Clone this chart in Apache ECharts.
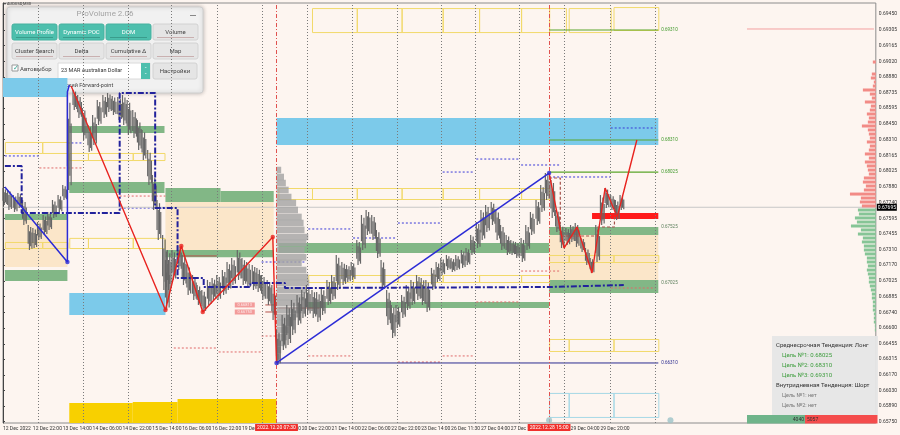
<!DOCTYPE html>
<html>
<head>
<meta charset="utf-8">
<title>AUDUSD,M30 ProVolume</title>
<script src="https://cdn.jsdelivr.net/npm/echarts@6/dist/echarts.min.js"></script>
<style>
html,body{margin:0;padding:0;background:#fdf5f0;}
#chart{width:900px;height:435px;}
</style>
</head>
<body>
<div id="chart"></div>
<script>
// price scale labels (right axis) and time labels (bar index -> text)
const yTickLabels = ['0.65750','0.65890','0.66030','0.66170','0.66315','0.66455','0.66600','0.66740','0.66885',
  '0.67025','0.67170','0.67310','0.67455','0.67595','0.67740','0.67880','0.68025','0.68165','0.68310',
  '0.68450','0.68595','0.68735','0.68880','0.69020','0.69165','0.69305','0.69450'];
const xTickBars = [0,32,64,96,128,160,192,224,256,288,320,352,384,416,448,480,512,544,576,608,640];
const xTickLabels = ['12 Dec 2022','12 Dec 22:00','13 Dec 14:00','14 Dec 06:00','14 Dec 22:00','15 Dec 14:00',
  '16 Dec 06:00','16 Dec 22:00','19 Dec 14:00','20 Dec 06:00','20 Dec 22:00','21 Dec 14:00','22 Dec 06:00',
  '22 Dec 22:00','23 Dec 14:00','26 Dec 11:30','27 Dec 04:00','27 Dec 20:00','28 Dec 12:00','29 Dec 04:00','29 Dec 20:00'];
const daySeparators = [38,86,134,180,230,278,326,374,422,470,506,553,601,651,699];
const sessionBars = [293,585];
const sessionLabels = ['2022.12.20 07:30','2022.12.28 15:00'];
const lastPrice = 0.67695;

// M30 price, sampled: bar index, high, low
const priceBars = [0,5,11,16,21,27,32,37,43,48,
  53,59,64,69,75,80,85,91,96,101,
  107,112,117,123,128,133,139,144,149,155,
  160,165,171,174,176,181,187,192,197,203,
  208,213,219,224,229,235,240,245,251,256,
  261,267,272,277,283,288,293,299,304,309,
  315,320,325,331,336,341,347,352,357,363,
  368,373,379,384,389,395,400,405,411,416,
  421,427,432,437,443,448,453,459,464,469,
  475,480,485,491,496,501,507,512,517,523,
  528,533,539,544,549,555,560,565,571,576,
  581,587,592,597,603,608,613,619,624,629,
  635,640,645,651,656,661];
const priceHigh = [0.67870,0.67852,0.67806,0.67825,0.67761,0.67534,0.67507,0.67561,0.67625,0.67652,
  0.67761,0.67806,0.67897,0.68714,0.68760,0.68714,0.68596,0.68442,0.68533,0.68669,
  0.68714,0.68733,0.68705,0.68696,0.68714,0.68669,0.68578,0.68487,0.68397,0.68215,
  0.67988,0.67761,0.67443,0.67216,0.67307,0.67307,0.67352,0.67262,0.67171,0.67080,
  0.66989,0.66944,0.67035,0.67053,0.67080,0.67125,0.67198,0.67234,0.67307,0.67234,
  0.67198,0.67171,0.67144,0.67080,0.67035,0.66989,0.66581,0.66717,0.66808,0.66853,
  0.66898,0.66944,0.66989,0.66944,0.66926,0.66962,0.67035,0.67080,0.67262,0.67198,
  0.67171,0.67198,0.67398,0.67625,0.67670,0.67625,0.67489,0.67216,0.66944,0.66808,
  0.66808,0.66898,0.66989,0.67035,0.67080,0.67053,0.67035,0.67144,0.67198,0.67234,
  0.67262,0.67234,0.67262,0.67307,0.67325,0.67443,0.67561,0.67670,0.67716,0.67743,
  0.67670,0.67534,0.67443,0.67398,0.67380,0.67416,0.67534,0.67652,0.67761,0.67897,
  0.68006,0.67943,0.67670,0.67534,0.67507,0.67534,0.67552,0.67416,0.67325,0.67234,
  0.67534,0.67806,0.67870,0.67806,0.67761,0.67806];
const priceLow = [0.67716,0.67670,0.67652,0.67688,0.67534,0.67307,0.67325,0.67398,0.67443,0.67489,
  0.67598,0.67652,0.67761,0.67852,0.68578,0.68506,0.68306,0.68197,0.68261,0.68442,
  0.68506,0.68560,0.68533,0.68487,0.68442,0.68351,0.68324,0.68215,0.68124,0.67897,
  0.67670,0.67398,0.66944,0.66762,0.66944,0.67035,0.67125,0.66989,0.66898,0.66853,
  0.66808,0.66744,0.66808,0.66853,0.66853,0.66898,0.66944,0.66989,0.67035,0.66989,
  0.66962,0.66944,0.66926,0.66853,0.66808,0.66671,0.66263,0.66399,0.66444,0.66535,
  0.66626,0.66690,0.66717,0.66690,0.66653,0.66717,0.66808,0.66853,0.66944,0.66989,
  0.67016,0.67035,0.67171,0.67307,0.67443,0.67398,0.67234,0.66944,0.66626,0.66508,
  0.66599,0.66690,0.66762,0.66808,0.66853,0.66808,0.66744,0.66944,0.67016,0.67080,
  0.67125,0.67107,0.67125,0.67144,0.67171,0.67262,0.67325,0.67398,0.67471,0.67534,
  0.67398,0.67307,0.67262,0.67262,0.67234,0.67198,0.67307,0.67443,0.67534,0.67652,
  0.67761,0.67598,0.67471,0.67325,0.67352,0.67380,0.67334,0.67289,0.67171,0.67098,
  0.67198,0.67534,0.67688,0.67670,0.67579,0.67670];

// zones: [fromBar, toBar, top price, bottom price]
const blueZones = [[0,69,0.68869,0.68696],[71,174,0.66917,0.66717],[293,702,0.68506,0.68261]];
const goldZones = [[71,139,0.65918,0.65736],[139,187,0.65927,0.65736],[187,293,0.65954,0.65736]];
const greenZones = [[71,173,0.68433,0.68369],[71,173,0.67924,0.67825],[2,69,0.67634,0.67579],
  [2,69,0.67125,0.67026],[174,233,0.67870,0.67743],[233,290,0.67843,0.67743],[174,290,0.67307,0.67241],
  [295,585,0.67371,0.67280],[327,585,0.66835,0.66780],[585,702,0.67516,0.67443],[585,702,0.67035,0.66917]];
const peachZones = [[2,69,0.67579,0.67153],[174,290,0.67743,0.67307],[585,702,0.67443,0.67035]];
const redBar = [[631,702,0.67643,0.67589]];
const yellowBoxes = [[2,42,0.68288,0.68188],[42,69,0.68288,0.68188],
  [71,91,0.68188,0.68124],[91,139,0.68188,0.68124],[139,173,0.68188,0.68124],
  [2,42,0.67380,0.67325],[42,69,0.67380,0.67325],
  [71,91,0.67417,0.67325],[91,139,0.67417,0.67325],[139,173,0.67417,0.67325],
  [295,331,0.67870,0.67770],[331,379,0.67870,0.67770],[379,427,0.67870,0.67770],[427,471,0.67870,0.67770],
  [471,510,0.67870,0.67770],[510,555,0.67870,0.67770],[555,585,0.67870,0.67770],
  [327,375,0.67080,0.67016],[375,423,0.67080,0.67016],[423,471,0.67080,0.67016],
  [471,510,0.67080,0.67016],[510,555,0.67080,0.67016],[555,585,0.67080,0.67016],
  [331,379,0.69504,0.69286],[379,427,0.69504,0.69286],[427,471,0.69504,0.69286],[471,510,0.69504,0.69286],
  [510,555,0.69504,0.69286],[555,585,0.69504,0.69286],[585,603,0.69504,0.69286],[606,651,0.69504,0.69286],
  [654,702,0.69513,0.69305],
  [585,606,0.67262,0.67198],[606,654,0.67262,0.67198],[654,702,0.67262,0.67198],
  [585,606,0.66499,0.66390],[606,654,0.66499,0.66390],[654,702,0.66499,0.66390]];
const cyanBoxes = [[585,606,0.66009,0.65791],[606,654,0.66009,0.65791],[654,702,0.66009,0.65791]];

// dotted day levels: [fromBar, toBar, price]
const blueDotted = [[2,39,0.68161],[69,85,0.68279],[125,174,0.67688],[277,299,0.67198],[295,325,0.67198],
  [327,373,0.67498],[375,421,0.67416],[423,469,0.67552],[471,505,0.68015],[507,553,0.68133],
  [555,597,0.68079],[585,651,0.67970],[651,699,0.68415]];
const redDotted = [[39,85,0.68052],[125,174,0.67797],[183,229,0.66417],[231,277,0.66381],[277,299,0.66526],
  [327,373,0.66345],[423,469,0.66290],[471,505,0.66345],[507,553,0.66835],[555,597,0.67116],[651,699,0.66962]];
const brownSegs = [[192,229,0.67253],[295,339,0.66780],[281,293,0.66808],[281,293,0.66744]];

// target levels with their price tags
const greenTargets = [[585,702,0.69305],[585,702,0.68306],[585,702,0.68015]];
const greenTargetText = ['0.69310','0.68310','0.68025'];
const bandTags = [[702,0.67516],[702,0.67007]];
const bandTagText = ['0.67525','0.67025'];
const navyLevel = [[293,702,0.66281]];
const navyLevelText = ['0.66310'];
const pinkLevel = [[797,933,0.69314]];

// POC path (dash-dot) and zigzags
const pocPath = [[2,0.68070],[20,0.68070],[20,0.67643],[125,0.67643],[125,0.68733],[163,0.68733],[163,0.67688],
  [187,0.67688],[187,0.67053],[215,0.67053],[215,0.66971],[265,0.66971],[265,0.67007],[302,0.67007],
  [302,0.66962],[331,0.66962],[331,0.66971],[585,0.66971],[585,0.66989],[665,0.66989]];
const blueLeg1 = [[2,0.67879],[69,0.67198],[69,0.68742],[71,0.68805]];
const blueLeg2 = [[293,0.66281],[585,0.68006]];
const blueDots = [[69,0.67198],[293,0.66281],[585,0.68006]];
const redLeg1 = [[73,0.68796],[174,0.66762],[191,0.67343],[214,0.66744],[289,0.67425],[293,0.66281]];
const redLeg2 = [[585,0.68006],[601,0.67325],[615,0.67516],[631,0.67098],[645,0.67870],[658,0.67607],[679,0.68306]];
const redDots = [[174,0.66762],[191,0.67343],[214,0.66744],[289,0.67425]];
const brownPath = [[585,0.67961],[597,0.67961],[597,0.67434],[637,0.67434],[637,0.67516],[655,0.67516],[655,0.67607]];
const priceTags = [[259,0.66808],[259,0.66744]];
const priceTagText = ['0.66813','0.66750'];
const eventDots = [[585,0.65762],[715,0.65762]];

// volume profile of the 20 Dec session (anchored at bar 293): price, length in bars
const profileAnchor = 293;
const profilePrices = [0.68033,0.67970,0.67915,0.67852,0.67788,0.67734,0.67670,0.67607,0.67552,0.67489,
  0.67425,0.67371,0.67307,0.67241,0.67189,0.67125,0.67062,0.67007,0.66944,0.66880,
  0.66826,0.66762,0.66699,0.66644,0.66581,0.66517,0.66463,0.66399,0.66335];
const profileVolumes = [5,8,10,13,16,21,23,27,29,30,34,32,30,32,27,32,34,35,32,29,27,27,21,18,13,11,9,5,3];

// right-hand market profile: asks (red) and bids (green)
const askPrices = [0.69014,0.68978,0.68941,0.68905,0.68869,0.68832,0.68796,0.68760,0.68723,0.68687,
  0.68651,0.68614,0.68578,0.68542,0.68506,0.68469,0.68433,0.68397,0.68360,0.68324,
  0.68288,0.68251,0.68215,0.68179,0.68142,0.68106,0.68070,0.68033,0.67997,0.67961,
  0.67924,0.67888,0.67852,0.67815,0.67779,0.67743,0.67707];
const askVolumes = [3,0,0,4,5,2,3,13,6,4,11,5,6,9,7,8,14,8,7,6,9,6,7,11,7,11,9,8,7,12,13,10,12,26,15,16,14];
const bidPrices = [0.67670,0.67634,0.67598,0.67561,0.67525,0.67489,0.67452,0.67416,0.67380,0.67343,
  0.67307,0.67271,0.67234,0.67198,0.67162,0.67125,0.67089,0.67053,0.67016,0.66980,
  0.66944,0.66907,0.66871,0.66835,0.66798,0.66762,0.66726,0.66689,0.66653,0.66617,0.66581];
const bidVolumes = [18,17,21,19,25,15,18,13,14,12,12,11,9,9,8,9,8,7,7,6,5,4,4,3,3,3,2,2,2,1,1];

const chart = echarts.init(document.getElementById('chart'));
const X_MAX = 935;
const FONT = 'Roboto, "Noto Sans", sans-serif';

function zoneSeries(data, color, opacity, z){
  return {type:'custom', z, silent:true, data, encode:{x:[0,1], y:[2,3]},
    renderItem(params, api){
      const a = api.coord([api.value(0), api.value(2)]);
      const b = api.coord([api.value(1), api.value(3)]);
      return {type:'rect', shape:{x:a[0], y:a[1], width:b[0]-a[0], height:b[1]-a[1]},
        style:{fill:color, opacity}};
    }};
}
function boxSeries(data, color, z){
  return {type:'custom', z, silent:true, data, encode:{x:[0,1], y:[2,3]},
    renderItem(params, api){
      const a = api.coord([api.value(0), api.value(2)]);
      const b = api.coord([api.value(1), api.value(3)]);
      return {type:'rect', shape:{x:a[0]+0.5, y:a[1]+0.5, width:b[0]-a[0], height:b[1]-a[1]},
        style:{fill:'none', stroke:color, lineWidth:1}};
    }};
}
function levelSeries(data, color, dash, width, z, tags, tagColor){
  return {type:'custom', z, silent:true, data, encode:{x:[0,1], y:2},
    renderItem(params, api){
      const a = api.coord([api.value(0), api.value(2)]);
      const b = api.coord([api.value(1), api.value(2)]);
      const kids = [{type:'line', shape:{x1:a[0], y1:a[1], x2:b[0], y2:b[1]},
        style:{stroke:color, lineWidth:width, lineDash:dash}}];
      if (tags) kids.push({type:'text', x:b[0]+3, y:b[1],
        style:{text:tags[params.dataIndex], fill:tagColor, font:'4.5px '+FONT, verticalAlign:'middle'}});
      return {type:'group', children:kids};
    }};
}
function lineSeries(data, color, width, dash, z, extra){
  return Object.assign({type:'line', data, z, silent:true, showSymbol:false, animation:false,
    lineStyle:{color, width, type:dash||'solid'}}, extra||{});
}

const option = {
  animation:false,
  backgroundColor:'#fdf5f0',
  textStyle:{fontFamily:FONT},
  grid:{left:1, right:22, top:3, bottom:12, show:true, borderColor:'#8c8c8c', borderWidth:1},
  xAxis:[{
    type:'value', min:0, max:X_MAX,
    axisLine:{show:false}, axisTick:{show:false}, splitLine:{show:false},
    axisLabel:{customValues:xTickBars, align:'left', margin:3, fontSize:5, color:'#333',
      formatter:v => xTickLabels[xTickBars.indexOf(Math.round(v))] || ''}
  },{
    type:'value', min:0, max:877, inverse:true, show:false
  }],
  yAxis:{
    type:'value', position:'right', min:0.65736, max:0.69550,
    axisLine:{show:true, lineStyle:{color:'#444'}},
    axisTick:{show:true, length:2, customValues:yTickLabels.map(Number), lineStyle:{color:'#444'}},
    splitLine:{show:false},
    axisLabel:{customValues:yTickLabels.map(Number), fontSize:5, color:'#333', margin:3,
      formatter:v => v.toFixed(5)}
  },
  series:[
    zoneSeries(peachZones, '#fbe4c4', 0.9, 1),
    zoneSeries(blueZones, '#7ccaea', 1, 1),
    zoneSeries(goldZones, '#f8d000', 1, 1),
    zoneSeries(greenZones, '#74b07a', 0.9, 1),
    boxSeries(yellowBoxes, '#f2d96a', 2),
    boxSeries(cyanBoxes, '#a6d8e6', 2),
    levelSeries(blueDotted, '#3a3ad8', [2,2], 1, 3),
    levelSeries(redDotted, '#e06a6a', [2,2], 1, 3),
    levelSeries(brownSegs, '#b5524c', null, 1, 3),
    // bid line of the last price, with its tag on the scale
    {type:'custom', z:3, silent:true, data:[[0, X_MAX, lastPrice]], encode:{x:[0,1], y:2},
      renderItem(params, api){
        const a = api.coord([api.value(0), api.value(2)]);
        const b = api.coord([api.value(1), api.value(2)]);
        return {type:'group', children:[
          {type:'line', shape:{x1:a[0], y1:a[1], x2:b[0], y2:b[1]}, style:{stroke:'#c8c8c8', lineWidth:1}},
          {type:'rect', z2:10, shape:{x:b[0]+1, y:b[1]-3.5, width:20, height:7}, style:{fill:'#000'}},
          {type:'text', z2:11, x:b[0]+2, y:b[1], style:{text:lastPrice.toFixed(5), fill:'#fff',
            font:'5px '+FONT, verticalAlign:'middle'}}
        ]};
      }},
    // volume profile of the session
    {type:'custom', z:3, silent:true, data:profilePrices.map((p,i)=>[profileVolumes[i], p]),
      encode:{x:0, y:1},
      renderItem(params, api){
        const a = api.coord([profileAnchor, api.value(1)]);
        const b = api.coord([profileAnchor + api.value(0), api.value(1)]);
        return {type:'rect', shape:{x:a[0], y:a[1]-3.3, width:b[0]-a[0], height:6.6},
          style:{fill:'#a3a3a3', opacity:0.8}};
      }},
    // right profile
    {type:'custom', xAxisIndex:1, z:3, silent:true, data:askPrices.map((p,i)=>[askVolumes[i], p]),
      encode:{x:0, y:1},
      renderItem(params, api){
        const a = api.coord([0, api.value(1)]);
        const b = api.coord([api.value(0), api.value(1)]);
        return {type:'rect', shape:{x:b[0], y:a[1]-1.5, width:a[0]-b[0], height:3}, style:{fill:'#f28b86'}};
      }},
    {type:'custom', xAxisIndex:1, z:3, silent:true, data:bidPrices.map((p,i)=>[bidVolumes[i], p]),
      encode:{x:0, y:1},
      renderItem(params, api){
        const a = api.coord([0, api.value(1)]);
        const b = api.coord([api.value(0), api.value(1)]);
        return {type:'rect', shape:{x:b[0], y:a[1]-1.5, width:a[0]-b[0], height:3}, style:{fill:'#86c596'}};
      }},
    zoneSeries(redBar, '#ff1a1a', 1, 4),
    levelSeries(greenTargets, '#5aa52a', null, 1.2, 4, greenTargetText, '#3f9a2a'),
    levelSeries(navyLevel, '#2c2c90', null, 1, 4, navyLevelText, '#2c2c90'),
    levelSeries(pinkLevel, '#f3a0a0', null, 1, 4),
    {type:'custom', z:4, silent:true, data:bandTags, encode:{x:0, y:1},
      renderItem(params, api){
        const a = api.coord([api.value(0), api.value(1)]);
        return {type:'text', x:a[0]+3, y:a[1],
          style:{text:bandTagText[params.dataIndex], fill:'#5b7f5b', font:'4.5px '+FONT, verticalAlign:'middle'}};
      }},
    // price bars
    {type:'custom', z:5, silent:true, data:priceBars.map((b,i)=>[b, priceHigh[i], priceLow[i]]),
      encode:{x:0, y:[1,2]},
      renderItem(params, api){
        const top = api.coord([api.value(0), api.value(1)]);
        const bot = api.coord([api.value(0), api.value(2)]);
        const w = api.size([5.3, 0])[0];
        const h = bot[1] - top[1];
        const parts = [[0,0.75],[0.25,1],[0.08,0.85],[0.3,0.95]];
        return {type:'group', children:parts.map((p,i)=>({type:'line',
          shape:{x1:top[0]+i*w/4, y1:top[1]+h*p[0], x2:top[0]+i*w/4, y2:top[1]+h*p[1]},
          style:{stroke:'#666', lineWidth:1.2}}))};
      }},
    lineSeries(pocPath, '#22229c', 2, [6,2,2,2], 6, {
      markLine:{silent:true, symbol:'none', animation:false,
        lineStyle:{color:'#7a7a7a', type:[1,2], width:1}, label:{show:false},
        data:daySeparators.map(b=>({xAxis:b}))}}),
    lineSeries(brownPath, '#a55049', 1.2, [3,2], 6),
    lineSeries(blueLeg1, '#2b2bd6', 1.5, null, 7, {
      markLine:{silent:true, symbol:'none', animation:false,
        lineStyle:{color:'#e0524f', type:[4,2,1,2], width:1},
        label:{show:true, position:'start', distance:1, formatter:'{b}', color:'#fff',
          backgroundColor:'#f0302c', fontSize:5, padding:[1,2]},
        data:sessionBars.map((b,i)=>({xAxis:b, name:sessionLabels[i]}))}}),
    lineSeries(blueLeg2, '#2b2bd6', 1.5, null, 7),
    lineSeries(redLeg1, '#e8231f', 1.4, null, 7),
    lineSeries(redLeg2, '#e8231f', 1.4, null, 7),
    {type:'scatter', z:8, silent:true, data:blueDots, symbolSize:4.5, itemStyle:{color:'#2b2bd6'}},
    {type:'scatter', z:8, silent:true, data:redDots, symbolSize:4.5, itemStyle:{color:'#e8231f'}},
    {type:'scatter', z:8, silent:true, data:eventDots, symbolSize:6, itemStyle:{color:'#9cc3c8'}},
    {type:'scatter', z:8, silent:true, data:priceTags, symbol:'rect', symbolSize:[20,5],
      itemStyle:{color:'#f08585'},
      label:{show:true, position:'inside', fontSize:4, color:'#fff',
        formatter:p => priceTagText[p.dataIndex]}}
  ],
  graphic:[
    {type:'text', x:4, y:2, z:100, style:{text:'▾ AUDUSD,M30', font:'4px '+FONT, fill:'#333'}},
    // ProVolume panel
    {type:'group', z:100, children:[
      {type:'rect', shape:{x:7, y:7, width:196, height:86, r:3},
        style:{fill:'#f1f1f1', stroke:'#cfcfcf', shadowBlur:4, shadowColor:'rgba(0,0,0,0.25)'}},
      {type:'text', x:105, y:14, style:{text:'ProVolume 2.06', font:'8px '+FONT, fill:'#a4a4a4', align:'center', verticalAlign:'middle'}},
      {type:'rect', shape:{x:190, y:15, width:6, height:1}, style:{fill:'#888'}},
      ...[['Volume Profile',12,24,1],['Dynamic POC',59,24,1],['DOM',106,24,1],['Volume',153,24,0],
          ['Cluster Search',12,43,0],['Delta',59,43,0],['Cumulative Δ',106,43,0],['Map',153,43,0]]
        .flatMap(([t,x,y,on]) => [
          {type:'rect', shape:{x, y, width:45, height:16, r:2},
            style:{fill:on ? '#4dbfad' : '#e5e5e5', stroke:on ? '#46b19f' : '#d2d2d2'}},
          {type:'text', x:x+22.5, y:y+8.5, style:{text:t, font:'6px '+FONT, fill:on ? '#fff' : '#444', align:'center', verticalAlign:'middle'}},
          {type:'rect', shape:{x:x+4, y:y+13, width:37, height:1}, style:{fill:on ? '#3a9c8c' : '#c9b0b0'}}
        ]),
      {type:'rect', shape:{x:12, y:65, width:6, height:6}, style:{fill:'#fff', stroke:'#999'}},
      {type:'text', x:12.5, y:68, style:{text:'✓', font:'7px '+FONT, fill:'#3aa696', verticalAlign:'middle'}},
      {type:'text', x:20, y:69, style:{text:'Автовыбор', font:'6px '+FONT, fill:'#444', verticalAlign:'middle'}},
      {type:'rect', shape:{x:58, y:63, width:92, height:16}, style:{fill:'#fff', stroke:'#dadada'}},
      {type:'text', x:61, y:71, style:{text:'23 MAR Australian Dollar', font:'5.5px '+FONT, fill:'#333', verticalAlign:'middle'}},
      {type:'rect', shape:{x:141, y:63, width:9, height:16}, style:{fill:'#4dbfad'}},
      {type:'text', x:145.5, y:71, style:{text:'⌃\n⌄', font:'4px '+FONT, fill:'#fff', align:'center', verticalAlign:'middle'}},
      {type:'rect', shape:{x:153, y:63, width:44, height:16, r:2}, style:{fill:'#e5e5e5', stroke:'#d2d2d2'}},
      {type:'text', x:175, y:71, style:{text:'Настройки', font:'6px '+FONT, fill:'#444', align:'center', verticalAlign:'middle'}},
      {type:'rect', shape:{x:12, y:80, width:25, height:10, r:2}, style:{fill:'#dedede'}},
      {type:'rect', shape:{x:18, y:81, width:8, height:8}, style:{fill:'#4dbfad'}},
      {type:'text', x:39, y:85.5, style:{text:'Динамический Forward-point', font:'5.5px '+FONT, fill:'#444', verticalAlign:'middle'}}
    ]},
    // trend info box
    {type:'group', z:100, children:[
      {type:'rect', shape:{x:772, y:336, width:106, height:79}, style:{fill:'#e6e6e6', opacity:0.95}},
      {type:'text', x:776, y:345, style:{text:'Среднесрочная Тенденция: Лонг', font:'6px '+FONT, fill:'#333', verticalAlign:'middle'}},
      {type:'text', x:782, y:355, style:{text:'Цель №1: 0.68025', font:'6px '+FONT, fill:'#3c9c3c', verticalAlign:'middle'}},
      {type:'text', x:782, y:365, style:{text:'Цель №2: 0.68310', font:'6px '+FONT, fill:'#3c9c3c', verticalAlign:'middle'}},
      {type:'text', x:782, y:375, style:{text:'Цель №3: 0.69310', font:'6px '+FONT, fill:'#3c9c3c', verticalAlign:'middle'}},
      {type:'text', x:776, y:385, style:{text:'Внутридневная Тенденция: Шорт', font:'6px '+FONT, fill:'#333', verticalAlign:'middle'}},
      {type:'text', x:782, y:396, style:{text:'Цель №1: нет', font:'5.5px '+FONT, fill:'#777', verticalAlign:'middle'}},
      {type:'text', x:782, y:406, style:{text:'Цель №2: нет', font:'5.5px '+FONT, fill:'#777', verticalAlign:'middle'}}
    ]},
    // delta bar
    {type:'group', z:100, children:[
      {type:'rect', shape:{x:747, y:415, width:58, height:8.5}, style:{fill:'#6fb48a'}},
      {type:'rect', shape:{x:805, y:415, width:72.5, height:8.5}, style:{fill:'#f44c4c'}},
      {type:'text', x:804, y:419.5, style:{text:'4040', font:'5px '+FONT, fill:'#333', align:'right', verticalAlign:'middle'}},
      {type:'text', x:807, y:419.5, style:{text:'5057', font:'5px '+FONT, fill:'#333', verticalAlign:'middle'}}
    ]}
  ]
};
chart.setOption(option);
</script>
</body>
</html>
